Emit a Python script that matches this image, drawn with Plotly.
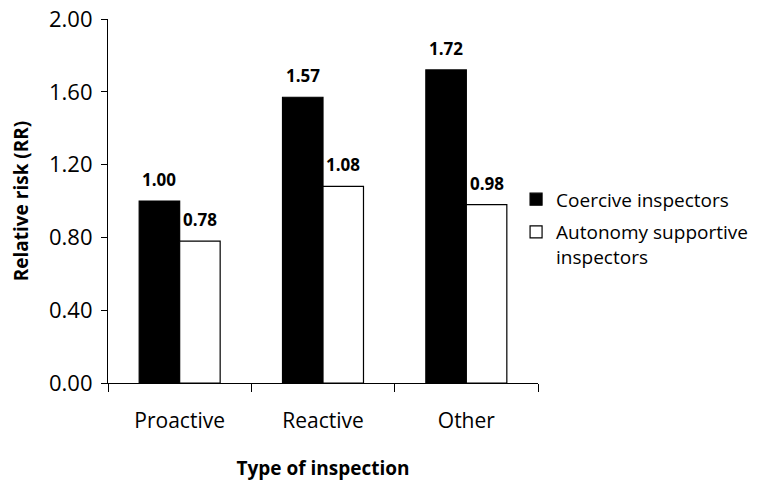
import plotly.graph_objects as go

categories = ["Proactive", "Reactive", "Other"]
coercive = [1.00, 1.57, 1.72]
autonomy = [0.78, 1.08, 0.98]
series_names = ["Coercive inspectors", "Autonomy supportive<br>inspectors"]
y_ticks = [0.0, 0.4, 0.8, 1.2, 1.6, 2.0]

FONT = "Open Sans"
BAR_HALF = 20.2   # px, half bar width (for label centring)

fig = go.Figure()
fig.add_trace(go.Bar(
    x=categories, y=coercive, name=series_names[0],
    marker=dict(color="black", line=dict(color="black", width=1.2)),
    legendgroup="a",
))
fig.add_trace(go.Bar(
    x=categories, y=autonomy, name=series_names[1],
    marker=dict(color="white", line=dict(color="black", width=1.2)),
    legendgroup="b",
))

# value labels above bars
for vals, shift in ((coercive, -BAR_HALF), (autonomy, BAR_HALF)):
    for c, v in zip(categories, vals):
        fig.add_annotation(x=c, y=v, xref="x", yref="y", text=f"<b>{v:.2f}</b>",
                           showarrow=False, xshift=shift, yshift=8, yanchor="bottom",
                           font=dict(family=FONT, size=17, color="black"))

fig.update_layout(
    width=770, height=481,
    margin=dict(l=108, r=232, t=19, b=98),
    paper_bgcolor="white", plot_bgcolor="white",
    barmode="group", bargap=0.435, bargroupgap=0,
    font=dict(family=FONT, size=21, color="black"),
    showlegend=True,
    legend=dict(x=0.949, xanchor="left", y=0.425, yanchor="middle",
                valign="top",
                font=dict(family=FONT, size=19, color="black"),
                tracegroupgap=5, bgcolor="rgba(0,0,0,0)"),
    xaxis=dict(
        automargin=False,
        showline=True, linecolor="black", linewidth=1.2,
        ticks="outside", tickson="boundaries", ticklen=8, tickcolor="black",
        tickfont=dict(family=FONT, size=21), ticklabelstandoff=19,
        title=dict(text="<b>Type of inspection</b>", font=dict(family=FONT, size=19), standoff=38),
        showgrid=False,
    ),
    yaxis=dict(
        automargin=False,
        range=[0, 2.0], tickvals=y_ticks, tickformat=".2f",
        ticklabeloverflow="allow",
        showline=True, linecolor="black", linewidth=1.2,
        ticks="outside", ticklen=6, tickcolor="black",
        tickfont=dict(family=FONT, size=22), ticklabelstandoff=4,
        title=dict(text="<b>Relative risk (RR)</b>", font=dict(family=FONT, size=19), standoff=15),
        showgrid=False, zeroline=False,
    ),
)

# remove the browser's default 8px body margin so the figure fills the window
fig.write_html("out.html", config={"displayModeBar": False},
               post_script="document.body.style.margin='0';")
